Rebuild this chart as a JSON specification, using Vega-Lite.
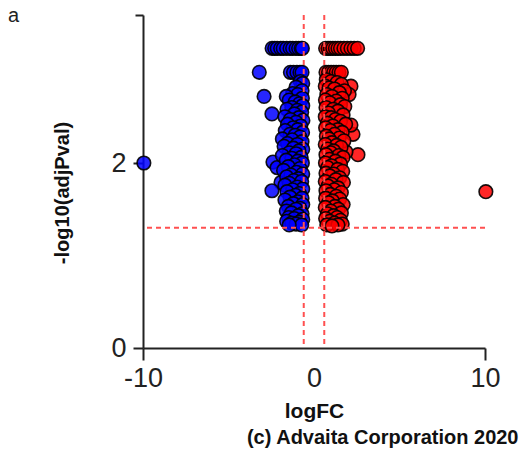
{
  "$schema": "https://vega.github.io/schema/vega-lite/v6.json",
  "width": 342,
  "height": 333,
  "autosize": {"type": "none"},
  "padding": {"left": 143, "top": 15, "right": 36, "bottom": 103},
  "background": "white",
  "config": {"view": {"stroke": null}, "font": "Liberation Sans"},
  "title": {"text": "a", "anchor": "start", "frame": "group", "orient": "top", "fontSize": 20, "fontWeight": "normal", "color": "#222", "font": "Liberation Sans", "baseline": "alphabetic", "dx": -135, "dy": 21, "offset": -7},
  "datasets": {
    "pts": [
      {"logFC": -2.45, "nlp": 3.24}, {"logFC": -2.3, "nlp": 3.24}, {"logFC": -2.15, "nlp": 3.24}, {"logFC": -1.95, "nlp": 3.24}, {"logFC": -1.8, "nlp": 3.24}, {"logFC": -1.6, "nlp": 3.24}, {"logFC": -1.4, "nlp": 3.24}, {"logFC": -1.25, "nlp": 3.24}, {"logFC": -1.05, "nlp": 3.24}, {"logFC": -0.9, "nlp": 3.24}, {"logFC": -0.75, "nlp": 3.24}, {"logFC": -0.68, "nlp": 3.24},
      {"logFC": -3.2, "nlp": 2.98}, {"logFC": -1.38, "nlp": 2.98}, {"logFC": -1.2, "nlp": 2.98}, {"logFC": -1.0, "nlp": 2.98}, {"logFC": -0.82, "nlp": 2.98}, {"logFC": -0.7, "nlp": 2.98},
      {"logFC": -2.92, "nlp": 2.72}, {"logFC": -2.46, "nlp": 2.53}, {"logFC": -2.4, "nlp": 2.01}, {"logFC": -2.16, "nlp": 1.95}, {"logFC": -1.93, "nlp": 1.79}, {"logFC": -2.46, "nlp": 1.7}, {"logFC": -9.95, "nlp": 2.0},
      {"logFC": -0.8, "nlp": 2.88}, {"logFC": -0.66, "nlp": 2.86}, {"logFC": -1.05, "nlp": 2.82}, {"logFC": -0.7, "nlp": 2.78}, {"logFC": -1.25, "nlp": 2.75}, {"logFC": -0.95, "nlp": 2.74}, {"logFC": -1.62, "nlp": 2.72}, {"logFC": -0.68, "nlp": 2.7}, {"logFC": -1.45, "nlp": 2.68}, {"logFC": -1.1, "nlp": 2.66}, {"logFC": -0.85, "nlp": 2.64}, {"logFC": -0.66, "nlp": 2.62}, {"logFC": -1.3, "nlp": 2.6}, {"logFC": -1.58, "nlp": 2.58}, {"logFC": -0.98, "nlp": 2.57}, {"logFC": -0.72, "nlp": 2.55}, {"logFC": -1.15, "nlp": 2.53}, {"logFC": -1.7, "nlp": 2.5}, {"logFC": -0.88, "nlp": 2.49}, {"logFC": -1.38, "nlp": 2.47}, {"logFC": -0.65, "nlp": 2.46}, {"logFC": -1.05, "nlp": 2.44}, {"logFC": -1.55, "nlp": 2.42}, {"logFC": -0.78, "nlp": 2.4}, {"logFC": -1.22, "nlp": 2.38}, {"logFC": -0.95, "nlp": 2.36}, {"logFC": -1.68, "nlp": 2.35}, {"logFC": -0.67, "nlp": 2.33}, {"logFC": -1.4, "nlp": 2.31}, {"logFC": -1.1, "nlp": 2.3}, {"logFC": -0.82, "nlp": 2.28}, {"logFC": -1.85, "nlp": 2.26}, {"logFC": -1.28, "nlp": 2.25}, {"logFC": -0.7, "nlp": 2.23}, {"logFC": -1.55, "nlp": 2.21}, {"logFC": -0.98, "nlp": 2.2}, {"logFC": -1.75, "nlp": 2.18}, {"logFC": -1.2, "nlp": 2.16}, {"logFC": -0.66, "nlp": 2.15}, {"logFC": -0.88, "nlp": 2.13}, {"logFC": -1.45, "nlp": 2.11}, {"logFC": -1.05, "nlp": 2.1}, {"logFC": -1.85, "nlp": 2.08}, {"logFC": -0.75, "nlp": 2.06}, {"logFC": -1.3, "nlp": 2.05}, {"logFC": -1.62, "nlp": 2.03}, {"logFC": -0.95, "nlp": 2.02}, {"logFC": -0.68, "nlp": 2.0}, {"logFC": -1.15, "nlp": 1.98}, {"logFC": -1.5, "nlp": 1.96}, {"logFC": -0.82, "nlp": 1.94}, {"logFC": -1.78, "nlp": 1.92}, {"logFC": -1.02, "nlp": 1.9}, {"logFC": -0.66, "nlp": 1.88}, {"logFC": -1.35, "nlp": 1.87}, {"logFC": -1.6, "nlp": 1.85}, {"logFC": -0.9, "nlp": 1.83}, {"logFC": -1.18, "nlp": 1.81}, {"logFC": -0.72, "nlp": 1.8}, {"logFC": -1.45, "nlp": 1.78}, {"logFC": -1.7, "nlp": 1.76}, {"logFC": -0.98, "nlp": 1.74}, {"logFC": -0.66, "nlp": 1.72}, {"logFC": -1.25, "nlp": 1.71}, {"logFC": -1.58, "nlp": 1.69}, {"logFC": -0.85, "nlp": 1.67}, {"logFC": -1.08, "nlp": 1.65}, {"logFC": -1.4, "nlp": 1.63}, {"logFC": -0.7, "nlp": 1.62}, {"logFC": -1.7, "nlp": 1.6}, {"logFC": -0.95, "nlp": 1.58}, {"logFC": -1.2, "nlp": 1.56}, {"logFC": -0.66, "nlp": 1.55}, {"logFC": -1.5, "nlp": 1.53}, {"logFC": -0.82, "nlp": 1.51}, {"logFC": -1.05, "nlp": 1.5}, {"logFC": -1.62, "nlp": 1.48}, {"logFC": -1.32, "nlp": 1.46}, {"logFC": -0.7, "nlp": 1.45}, {"logFC": -0.92, "nlp": 1.43}, {"logFC": -1.48, "nlp": 1.41}, {"logFC": -1.15, "nlp": 1.4}, {"logFC": -0.66, "nlp": 1.39}, {"logFC": -1.6, "nlp": 1.37}, {"logFC": -0.85, "nlp": 1.36}, {"logFC": -1.3, "nlp": 1.35}, {"logFC": -1.05, "nlp": 1.34}, {"logFC": -0.72, "nlp": 1.33}, {"logFC": -1.45, "nlp": 1.33},
      {"logFC": 0.68, "nlp": 3.24}, {"logFC": 0.82, "nlp": 3.24}, {"logFC": 0.95, "nlp": 3.24}, {"logFC": 1.1, "nlp": 3.24}, {"logFC": 1.25, "nlp": 3.24}, {"logFC": 1.4, "nlp": 3.24}, {"logFC": 1.55, "nlp": 3.24}, {"logFC": 1.75, "nlp": 3.24}, {"logFC": 1.95, "nlp": 3.24}, {"logFC": 2.16, "nlp": 3.24}, {"logFC": 2.35, "nlp": 3.24}, {"logFC": 2.55, "nlp": 3.24},
      {"logFC": 0.7, "nlp": 2.98}, {"logFC": 0.85, "nlp": 2.98}, {"logFC": 1.0, "nlp": 2.98}, {"logFC": 1.15, "nlp": 2.98}, {"logFC": 1.3, "nlp": 2.98}, {"logFC": 1.46, "nlp": 2.98}, {"logFC": 1.6, "nlp": 2.98},
      {"logFC": 2.16, "nlp": 2.83}, {"logFC": 2.05, "nlp": 2.74}, {"logFC": 2.28, "nlp": 2.31}, {"logFC": 2.16, "nlp": 2.41}, {"logFC": 2.57, "nlp": 2.09}, {"logFC": 1.87, "nlp": 2.12}, {"logFC": 10.05, "nlp": 1.69},
      {"logFC": 0.72, "nlp": 2.9}, {"logFC": 1.0, "nlp": 2.88}, {"logFC": 1.35, "nlp": 2.87}, {"logFC": 1.6, "nlp": 2.85}, {"logFC": 0.66, "nlp": 2.83}, {"logFC": 0.88, "nlp": 2.81}, {"logFC": 1.2, "nlp": 2.8}, {"logFC": 1.78, "nlp": 2.78}, {"logFC": 1.48, "nlp": 2.76}, {"logFC": 0.75, "nlp": 2.74}, {"logFC": 1.05, "nlp": 2.72}, {"logFC": 1.65, "nlp": 2.7}, {"logFC": 0.67, "nlp": 2.68}, {"logFC": 1.3, "nlp": 2.67}, {"logFC": 0.92, "nlp": 2.65}, {"logFC": 1.55, "nlp": 2.63}, {"logFC": 1.8, "nlp": 2.61}, {"logFC": 0.7, "nlp": 2.6}, {"logFC": 1.12, "nlp": 2.58}, {"logFC": 1.4, "nlp": 2.56}, {"logFC": 0.85, "nlp": 2.54}, {"logFC": 1.7, "nlp": 2.52}, {"logFC": 0.66, "nlp": 2.5}, {"logFC": 1.0, "nlp": 2.49}, {"logFC": 1.25, "nlp": 2.47}, {"logFC": 1.55, "nlp": 2.45}, {"logFC": 0.78, "nlp": 2.43}, {"logFC": 1.85, "nlp": 2.42}, {"logFC": 1.1, "nlp": 2.4}, {"logFC": 0.68, "nlp": 2.38}, {"logFC": 1.4, "nlp": 2.36}, {"logFC": 0.95, "nlp": 2.35}, {"logFC": 1.65, "nlp": 2.33}, {"logFC": 1.2, "nlp": 2.31}, {"logFC": 0.72, "nlp": 2.29}, {"logFC": 1.48, "nlp": 2.27}, {"logFC": 0.88, "nlp": 2.26}, {"logFC": 1.75, "nlp": 2.24}, {"logFC": 1.05, "nlp": 2.22}, {"logFC": 0.66, "nlp": 2.2}, {"logFC": 1.32, "nlp": 2.19}, {"logFC": 1.58, "nlp": 2.17}, {"logFC": 0.8, "nlp": 2.15}, {"logFC": 1.15, "nlp": 2.13}, {"logFC": 0.98, "nlp": 2.11}, {"logFC": 1.11, "nlp": 2.05}, {"logFC": 0.7, "nlp": 2.09}, {"logFC": 1.45, "nlp": 2.08}, {"logFC": 1.7, "nlp": 2.06}, {"logFC": 0.9, "nlp": 2.04}, {"logFC": 1.25, "nlp": 2.02}, {"logFC": 0.67, "nlp": 2.0}, {"logFC": 1.55, "nlp": 1.99}, {"logFC": 1.02, "nlp": 1.97}, {"logFC": 0.8, "nlp": 1.95}, {"logFC": 1.38, "nlp": 1.93}, {"logFC": 1.68, "nlp": 1.91}, {"logFC": 0.7, "nlp": 1.89}, {"logFC": 1.15, "nlp": 1.88}, {"logFC": 0.92, "nlp": 1.86}, {"logFC": 1.5, "nlp": 1.84}, {"logFC": 1.28, "nlp": 1.82}, {"logFC": 0.66, "nlp": 1.8}, {"logFC": 1.72, "nlp": 1.79}, {"logFC": 1.02, "nlp": 1.77}, {"logFC": 0.82, "nlp": 1.75}, {"logFC": 1.4, "nlp": 1.73}, {"logFC": 1.18, "nlp": 1.71}, {"logFC": 0.7, "nlp": 1.7}, {"logFC": 1.6, "nlp": 1.68}, {"logFC": 0.95, "nlp": 1.66}, {"logFC": 1.3, "nlp": 1.64}, {"logFC": 0.68, "nlp": 1.62}, {"logFC": 1.5, "nlp": 1.61}, {"logFC": 1.08, "nlp": 1.59}, {"logFC": 0.85, "nlp": 1.57}, {"logFC": 1.7, "nlp": 1.55}, {"logFC": 1.22, "nlp": 1.53}, {"logFC": 0.66, "nlp": 1.52}, {"logFC": 1.42, "nlp": 1.5}, {"logFC": 0.98, "nlp": 1.48}, {"logFC": 1.6, "nlp": 1.46}, {"logFC": 0.78, "nlp": 1.45}, {"logFC": 1.15, "nlp": 1.43}, {"logFC": 1.35, "nlp": 1.41}, {"logFC": 0.68, "nlp": 1.4}, {"logFC": 1.55, "nlp": 1.38}, {"logFC": 0.92, "nlp": 1.37}, {"logFC": 1.2, "nlp": 1.35}, {"logFC": 1.65, "nlp": 1.34}, {"logFC": 0.75, "nlp": 1.33}, {"logFC": 1.4, "nlp": 1.33}, {"logFC": 1.05, "nlp": 1.32}
    ]
  },
  "layer": [
    {
      "data": {"name": "pts"},
      "mark": {"type": "circle", "size": 185, "fillOpacity": 0.85, "stroke": "#000", "strokeWidth": 1.6, "strokeOpacity": 0.9},
      "encoding": {
        "x": {
          "field": "logFC", "type": "quantitative",
          "scale": {"domain": [-10, 10], "nice": false, "zero": false},
          "axis": {
            "title": "logFC", "values": [-10, 0, 10], "labelExpr": "'' + datum.value", "labelFlush": false,
            "labelFontSize": 27, "labelColor": "#222", "labelPadding": 5, "labelFont": "Liberation Sans",
            "tickSize": 12, "tickWidth": 2, "tickColor": "#222",
            "tickOpacity": {"condition": {"test": "datum.value == 0", "value": 0}, "value": 1},
            "domainColor": "#222", "domainWidth": 2, "grid": false,
            "titleFontSize": 21, "titleFontWeight": "bold", "titleColor": "#111", "titleFont": "Liberation Sans",
            "titleY": 69.5, "titleBaseline": "alphabetic"
          }
        },
        "y": {
          "field": "nlp", "type": "quantitative",
          "scale": {"domain": [0, 3.6], "nice": false, "zero": false},
          "axis": {
            "title": "-log10(adjPval)", "values": [0, 2, 3.6], "labelExpr": "datum.value > 3 ? '' : '' + datum.value", "labelFlush": false,
            "labelFontSize": 27, "labelColor": "#222", "labelPadding": 7, "labelFont": "Liberation Sans",
            "tickSize": {"condition": {"test": "datum.value > 3", "value": 8}, "value": 10},
            "tickWidth": 2, "tickColor": "#222",
            "domainColor": "#222", "domainWidth": 2, "grid": false,
            "titleFontSize": 20, "titleFontWeight": "bold", "titleColor": "#111", "titleFont": "Liberation Sans",
            "titleX": -75, "titleY": 177.5, "titleAlign": "center", "titleBaseline": "alphabetic", "titleAngle": 270
          }
        },
        "color": {"condition": {"test": "datum.logFC > 0", "value": "#ff0000"}, "value": "#0000ff"}
      }
    },
    {
      "data": {"values": [{"fc": -0.6}, {"fc": 0.6}]},
      "mark": {"type": "rule", "color": "#ff5050", "strokeDash": [5, 4], "strokeWidth": 2},
      "encoding": {
        "x": {
          "field": "fc", "type": "quantitative",
          "scale": {"domain": [-10, 10], "nice": false, "zero": false},
          "axis": {
            "orient": "bottom", "title": "(c) Advaita Corporation 2020", "labels": false, "ticks": false, "domain": false, "grid": false,
            "titleFontSize": 20, "titleFontWeight": "bold", "titleColor": "#111", "titleFont": "Liberation Sans",
            "titleX": 375, "titleY": 95, "titleAlign": "right", "titleBaseline": "alphabetic"
          }
        }
      }
    },
    {
      "data": {"values": [{"p": 1.301}]},
      "mark": {"type": "rule", "color": "#ff5050", "strokeDash": [5, 4], "strokeWidth": 2},
      "encoding": {
        "y": {"datum": 1.301, "type": "quantitative"}
      }
    }
  ],
  "resolve": {"axis": {"x": "independent"}}
}
